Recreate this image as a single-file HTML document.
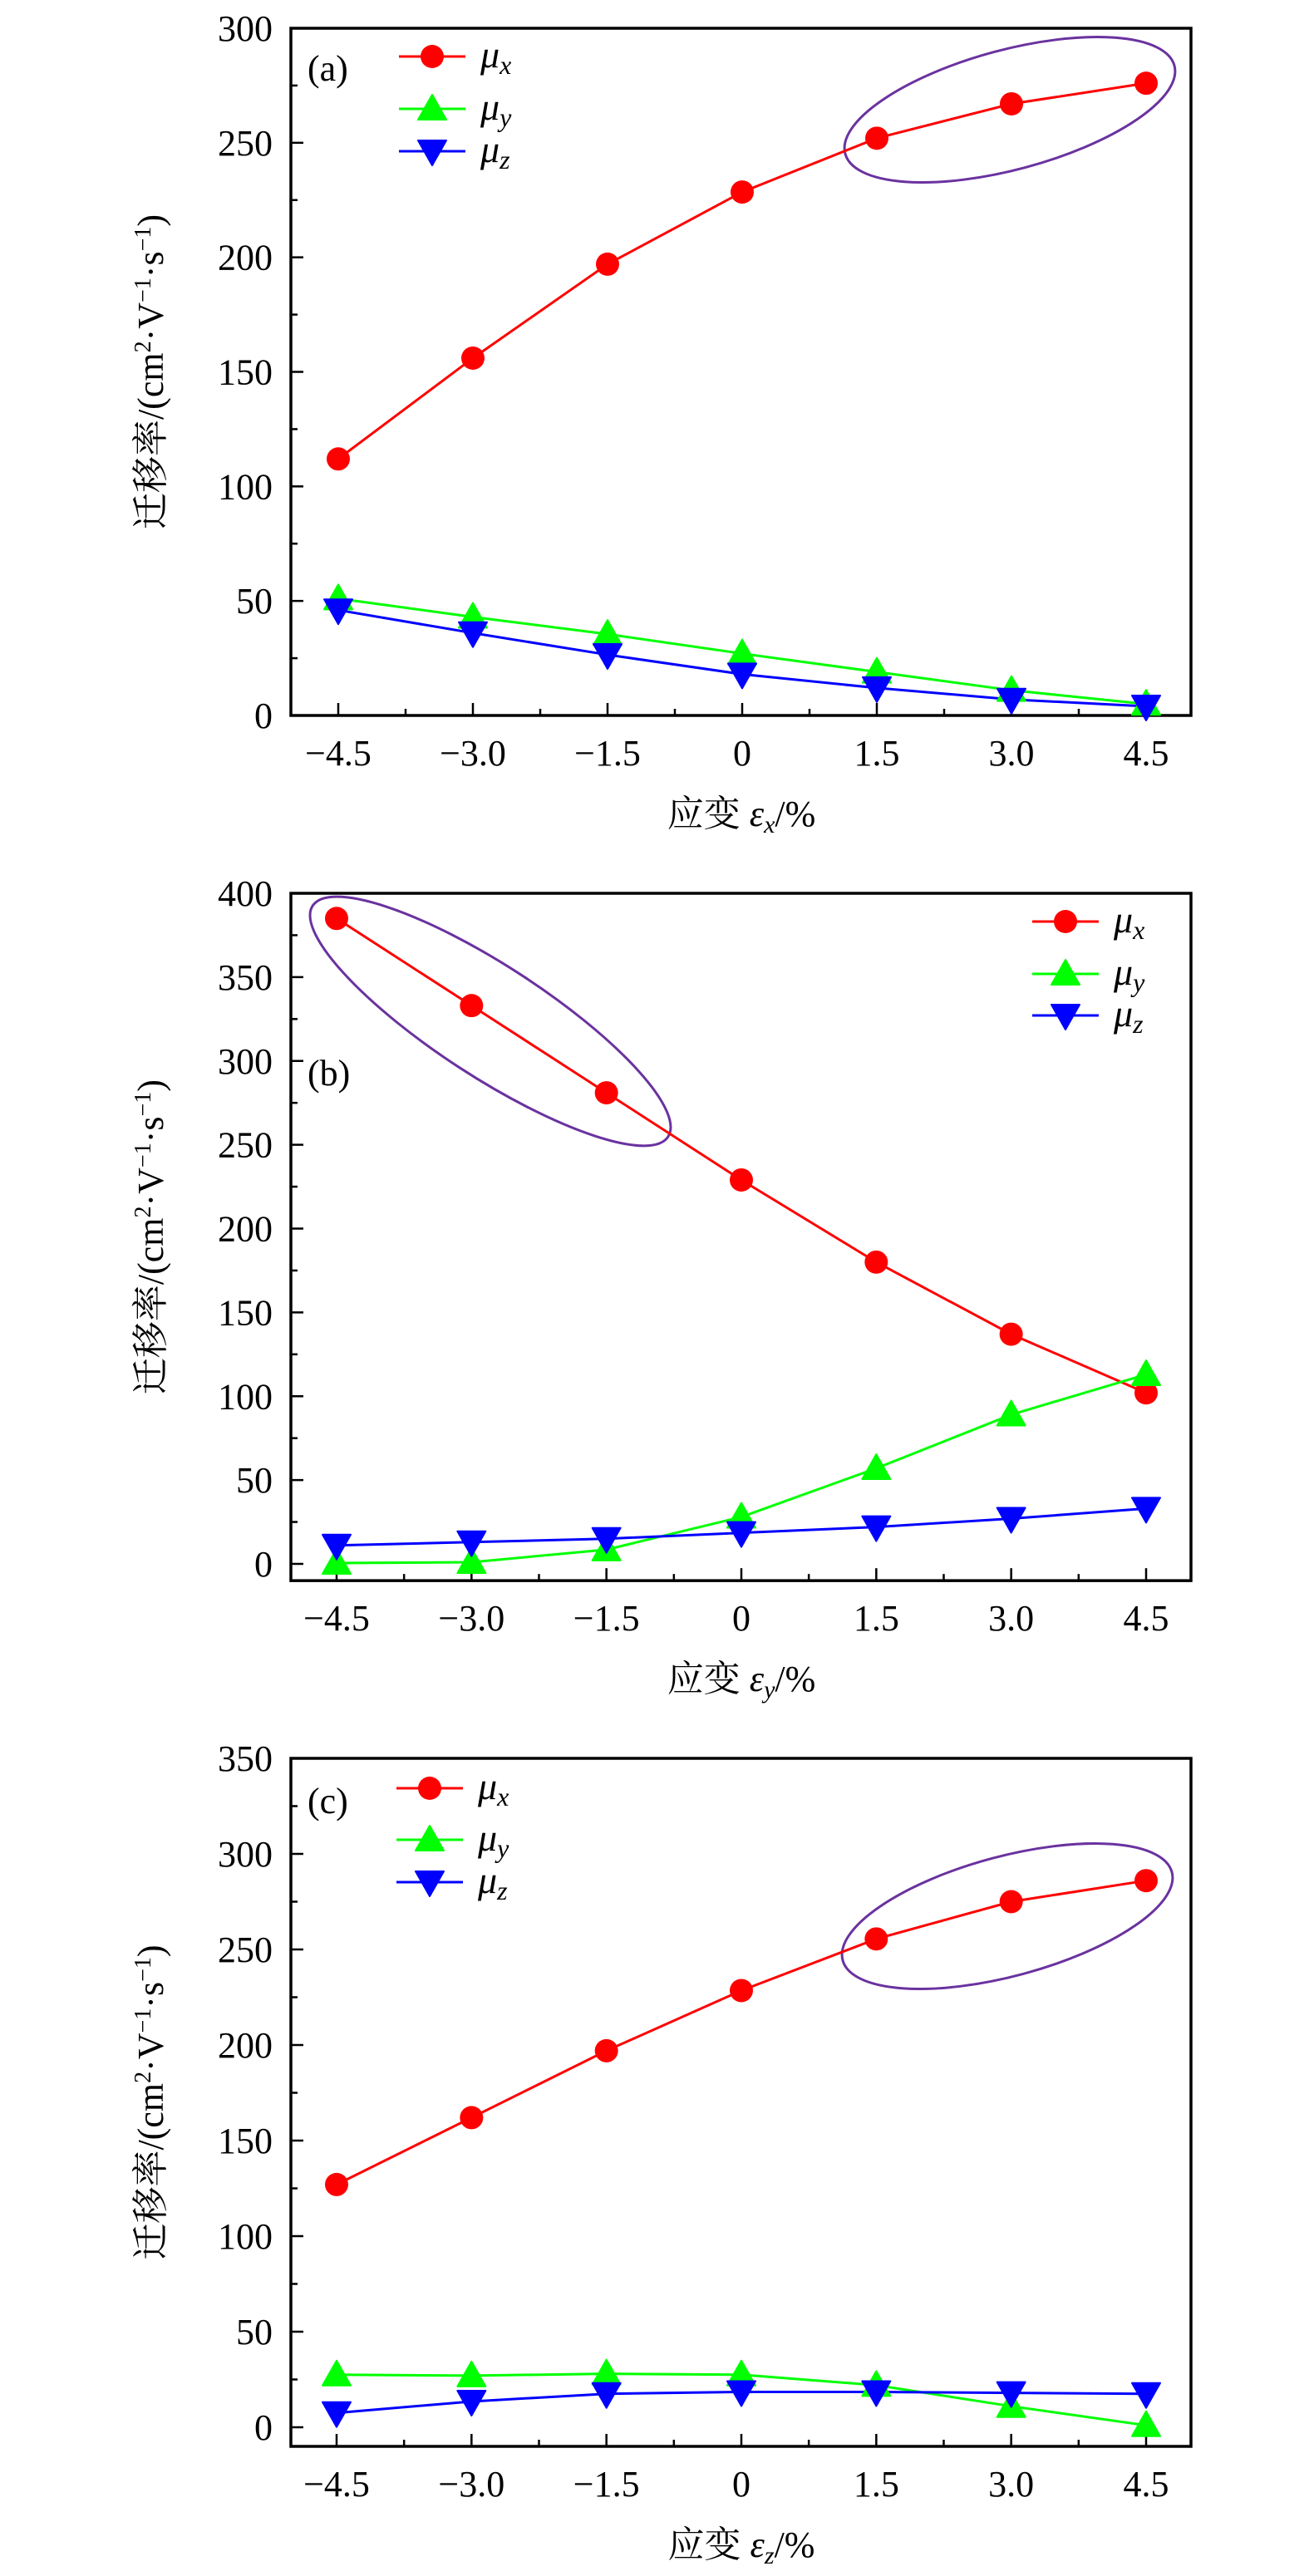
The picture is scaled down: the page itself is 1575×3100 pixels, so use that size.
<!DOCTYPE html>
<html><head><meta charset="utf-8"><style>
html,body{margin:0;padding:0;background:#fff}
svg{display:block}
text{font-family:"Liberation Serif","Noto Serif CJK SC",serif;fill:#000}
</style></head><body>
<svg id="fig" width="1575" height="3100" viewBox="0 0 1575 3100" xmlns="http://www.w3.org/2000/svg"></svg>
<script>
const strainCats=[-4.5,-3.0,-1.5,0,1.5,3.0,4.5];
const xTickLabels=["\u22124.5","\u22123.0","\u22121.5","0","1.5","3.0","4.5"];
const aMuX=[112,156,197,228.5,252,267,276];
const aMuY=[51,43,35.5,27,19,11,5];
const aMuZ=[46,36,26.5,18,12,7,4];
const aYTicks=[0,50,100,150,200,250,300];
const bMuX=[385,333,281,229,180,137,102];
const bMuY=[0.5,1,8.5,28,57,89,113];
const bMuZ=[11,13,15,18.5,22,27,33];
const bYTicks=[0,50,100,150,200,250,300,350,400];
const cMuX=[127,162,197,228.5,255.5,275,286];
const cMuY=[27.5,27,28,27.5,22,11,1];
const cMuZ=[7.5,13.5,17.5,18.5,18.5,18,17.5];
const cYTicks=[0,50,100,150,200,250,300,350];

const NS="http://www.w3.org/2000/svg";
const svg=document.getElementById('fig');
function mk(tag,attrs,parent){const e=document.createElementNS(NS,tag);for(const k in attrs)e.setAttribute(k,attrs[k]);(parent||svg).appendChild(e);return e;}

function panel(p){
  const g=mk('g',{});
  
  
  const L=350,R=1433;
  const xs=v=>p.x0+(v-(-4.5))*(p.x1-p.x0)/9;
  const ys=v=>p.y0+(v-0)*(p.yTop-p.y0)/p.vTop;
  const T=ys(p.vTop), B=ys(p.vMin);
  for(let v=0;v<=p.vTop;v+=25){
    const major=v%50===0;
    const t=mk('line',{x1:L,x2:L+(major?15:8),y1:ys(v),y2:ys(v),stroke:'#000','stroke-width':2.5},g);
    
    
  }
  p.yTicks.forEach(v=>{
    const t=mk('text',{x:328,y:ys(v)+15,'text-anchor':'end','font-size':44},g);
    t.textContent=v;
    
    
  });
  for(let i=0;i<13;i++){
    const v=-4.5+i*0.75; const major=i%2===0;
    const t=mk('line',{x1:xs(v),x2:xs(v),y1:B,y2:B-(major?15:8),stroke:'#000','stroke-width':2.5},g);
    
    
  }
  strainCats.forEach((v,i)=>{
    const t=mk('text',{x:xs(v),y:B+60,'text-anchor':'middle','font-size':44},g);
    t.textContent=xTickLabels[i];
    
    
  });
  const box=mk('rect',{x:L,y:T,width:R-L,height:B-T,fill:'none',stroke:'#000','stroke-width':3.5},g);
  
  
  const xt=mk('text',{x:892,y:B+133,'text-anchor':'middle','font-size':44},g);
  xt.innerHTML='应变 <tspan font-style="italic">ε</tspan><tspan font-style="italic" font-size="30" dy="8">'+p.sub+'</tspan><tspan dy="-8">/%</tspan>';
  
  
  const cy=(T+B)/2;
  const yt=mk('text',{x:0,y:0,'text-anchor':'middle','font-size':44,transform:`translate(196,${cy}) rotate(-90)`},g);
  yt.innerHTML='迁移率/(cm<tspan font-size="28" dy="-15">2</tspan><tspan dy="15">·V</tspan><tspan font-size="28" dy="-15">−1</tspan><tspan dy="15">·s</tspan><tspan font-size="28" dy="-15">−1</tspan><tspan dy="15">)</tspan>';
  
  
  const el=mk('ellipse',{cx:p.ell[0],cy:p.ell[1],rx:p.ell[2],ry:p.ell[3],transform:`rotate(${p.ell[4]} ${p.ell[0]} ${p.ell[1]})`,fill:'none',stroke:'#6a329f','stroke-width':3},g);
  
  
  const series=[
    {name:'mu-x',vals:p.mx,col:'#f00',m:'c'},
    {name:'mu-y',vals:p.my,col:'#0f0',m:'u'},
    {name:'mu-z',vals:p.mz,col:'#00f',m:'d'}];
  function marker(x,y,s,parent){
    let e;
    if(s.m==='c') e=mk('circle',{cx:x,cy:y,r:14,fill:s.col},parent);
    else if(s.m==='u') e=mk('polygon',{points:`${x},${y-17} ${x-17},${y+13} ${x+17},${y+13}`,fill:s.col,stroke:s.col,'stroke-width':2,'stroke-linejoin':'round'},parent);
    else e=mk('polygon',{points:`${x-17},${y-13} ${x+17},${y-13} ${x},${y+17}`,fill:s.col,stroke:s.col,'stroke-width':2,'stroke-linejoin':'round'},parent);
    return e;
  }
  series.forEach(s=>{
    const pts=s.vals.map((v,i)=>xs(strainCats[i])+','+ys(v)).join(' ');
    const pl=mk('polyline',{points:pts,fill:'none',stroke:s.col,'stroke-width':3},g);
    
    
  });
  series.forEach(s=>{
    s.vals.forEach((v,i)=>{
      const e=marker(xs(strainCats[i]),ys(v),s,g);
      
      
    });
  });
  const labs=['x','y','z'];
  series.forEach((s,i)=>{
    const y=p.leg[1][i], x0=p.leg[0];
    const lg=mk('g',{},g);
    
    
    mk('line',{x1:x0,x2:x0+80,y1:y,y2:y,stroke:s.col,'stroke-width':3},lg);
    marker(x0+40,y,s,lg);
    const t=mk('text',{x:x0+98,y:y+13,'font-size':46,'font-style':'italic'},lg);
    t.innerHTML='μ<tspan font-size="32" dy="8">'+labs[i]+'</tspan>';
  });
  const pt=mk('text',{x:p.tag[0],y:p.tag[1],'font-size':44},g);
  pt.textContent='('+p.id+')';
  
  
}

panel({id:'a',sub:'x',x0:407,x1:1379,y0:861,yTop:34,vTop:300,vMin:0,yTicks:aYTicks,
  mx:aMuX,my:aMuY,mz:aMuZ,ell:[1215,132,205,72,-15],leg:[480,[68,131,182]],tag:[370,97]});
panel({id:'b',sub:'y',x0:405,x1:1379,y0:1882,yTop:1075,vTop:400,vMin:-10,yTicks:bYTicks,
  mx:bMuX,my:bMuY,mz:bMuZ,ell:[590,1229,255,67,33],leg:[1242,[1109,1172,1222]],tag:[370,1306]});
panel({id:'c',sub:'z',x0:405,x1:1379,y0:2921,yTop:2116,vTop:350,vMin:-10,yTicks:cYTicks,
  mx:cMuX,my:cMuY,mz:cMuZ,ell:[1212,2306,205,72,-15],leg:[477,[2152,2214,2265]],tag:[370,2182]});
</script>
</body></html>
